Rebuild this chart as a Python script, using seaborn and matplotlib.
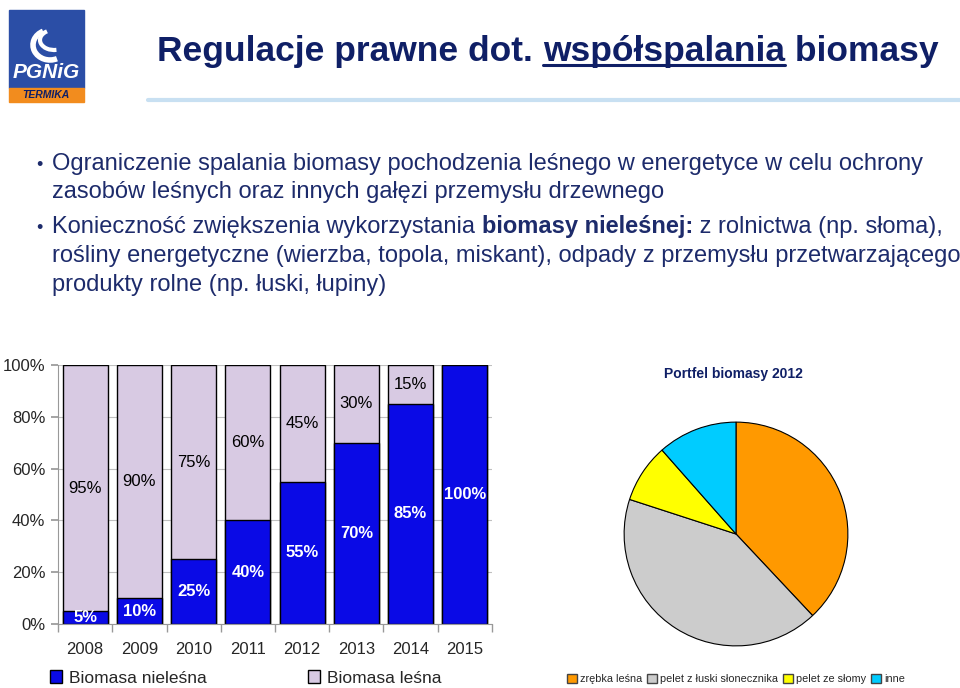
import matplotlib.pyplot as plt
import matplotlib.patches as mpatches
import seaborn as sns
import pandas as pd

# --- data ---
lata = ['2008', '2009', '2010', '2011', '2012', '2013', '2014', '2015']
nielesna = [5, 10, 25, 40, 55, 70, 85, 100]
lesna = [95, 90, 75, 60, 45, 30, 15, 0]
seria_nazwy = ['Biomasa nieleśna', 'Biomasa leśna']

pie_nazwy = ['zrębka leśna', 'pelet z łuski słonecznika', 'pelet ze słomy', 'inne']
pie_udzial = [38, 42, 8.5, 11.5]

y_ticks = [0, 20, 40, 60, 80, 100]

tytul = ['Regulacje prawne dot. ', 'współspalania', ' biomasy']
punkty = [
    [[('Ograniczenie spalania biomasy pochodzenia leśnego w energetyce w celu ochrony', 'normal')],
     [('zasobów leśnych oraz innych gałęzi przemysłu drzewnego', 'normal')]],
    [[('Konieczność zwiększenia wykorzystania ', 'normal'), ('biomasy nieleśnej:', 'bold'),
      (' z rolnictwa (np. słoma),', 'normal')],
     [('rośliny energetyczne (wierzba, topola, miskant), odpady z przemysłu przetwarzającego', 'normal')],
     [('produkty rolne (np. łuski, łupiny)', 'normal')]],
]

BLUE = '#0a0ae6'
LILAC = '#d8cae3'
NAVY = '#0f1f66'
TXT = '#1d2b6b'
pie_kolory = ['#ff9900', '#cccccc', '#ffff00', '#00ccff']

sns.set_theme(style='white')
plt.rcParams['font.family'] = ['Liberation Sans', 'DejaVu Sans']

W, H = 960, 688
fig = plt.figure(figsize=(9.6, 6.88), dpi=100)


def fx(x):
    return x / W


def fy(y):
    return 1 - y / H


rend = fig.canvas.get_renderer()


def runs(x, y, parts, **kw):
    boxes = []
    for s, wgt in parts:
        t = fig.text(fx(x), fy(y), s, weight=wgt, va='baseline', ha='left', **kw)
        bb = t.get_window_extent(rend)
        boxes.append(bb)
        x = x + bb.width
    return boxes


# --- logo ---
fig.patches.append(mpatches.Rectangle((fx(9), fy(88)), fx(75), 78 / H, transform=fig.transFigure,
                                      color='#2b4ea6', zorder=1))
fig.patches.append(mpatches.Rectangle((fx(9), fy(102)), fx(75), 14 / H, transform=fig.transFigure,
                                      color='#f28c1e', zorder=1))
fig.patches.append(mpatches.Arc((fx(50), fy(45)), fx(34), 30 / H, theta1=110, theta2=290,
                                transform=fig.transFigure, color='white', lw=4, zorder=2))
fig.patches.append(mpatches.Arc((fx(54), fy(40)), fx(28), 20 / H, theta1=120, theta2=280,
                                transform=fig.transFigure, color='white', lw=3, zorder=2))
fig.text(fx(46), fy(72), 'PGNiG', color='white', weight='bold', style='italic', fontsize=15,
         ha='center', va='center')
fig.text(fx(46), fy(95), 'TERMIKA', color=NAVY, weight='bold', style='italic', fontsize=7.5,
         ha='center', va='center')

# --- title ---
tb = runs(157, 61, [(t, 'bold') for t in tytul], color=NAVY, fontsize=25.5)
u = tb[1]
fig.lines.append(plt.Line2D([u.x0 / W, u.x1 / W], [fy(65), fy(65)], transform=fig.transFigure,
                            color=NAVY, lw=2.2))
fig.lines.append(plt.Line2D([fx(148), fx(960)], [fy(100), fy(100)], transform=fig.transFigure,
                            color='#c8e0f2', lw=3))

# --- bullets ---
baselines = [[170, 198], [233, 262, 291]]
for punkt, ys in zip(punkty, baselines):
    fig.text(fx(36), fy(ys[0]), '•', color=TXT, fontsize=13, va='baseline')
    for linia, yb in zip(punkt, ys):
        runs(52, yb, linia, color=TXT, fontsize=17)

# --- stacked bars ---
df = pd.DataFrame({'rok': lata, 'nielesna': nielesna, 'lesna': lesna})
df['razem'] = df['nielesna'] + df['lesna']

ax = fig.add_axes([fx(58), fy(624), 434 / W, 259 / H])
sns.barplot(data=df, x='rok', y='razem', color=LILAC, saturation=1, edgecolor='black',
            linewidth=1, width=0.83, ax=ax)
sns.barplot(data=df, x='rok', y='nielesna', color=BLUE, saturation=1, edgecolor='black',
            linewidth=1, width=0.83, ax=ax)

for i, (n, l) in enumerate(zip(nielesna, lesna)):
    if n > 0:
        ax.text(i, n / 2, f'{n}%', ha='center', va='center', color='white', weight='bold', fontsize=12)
    if l > 0:
        ax.text(i, n + l / 2, f'{l}%', ha='center', va='center', color='black', fontsize=12)

ax.set_xlim(-0.5, 7.5)
ax.set_ylim(0, 100)
ax.set_yticks(y_ticks)
ax.set_yticklabels([f'{v}%' for v in y_ticks], fontsize=12)
ax.set_xlabel('')
ax.set_ylabel('')
ax.yaxis.grid(True, color='#c0c0c0', lw=0.8)
ax.set_axisbelow(True)
for s in ['top', 'right']:
    ax.spines[s].set_visible(False)
for s in ['left', 'bottom']:
    ax.spines[s].set_color('#999999')
    ax.spines[s].set_linewidth(0.8)
ax.set_xticks([i + 0.5 for i in range(-1, 8)], minor=True)
ax.tick_params(axis='x', which='major', length=0, pad=13, labelsize=12)
ax.tick_params(axis='x', which='minor', length=6, color='#999999', bottom=True, direction='out')
ax.tick_params(axis='y', length=5, color='#999999', left=True, direction='out', pad=4)

fig.legend(handles=[mpatches.Patch(facecolor=BLUE, edgecolor='black'),
                    mpatches.Patch(facecolor=LILAC, edgecolor='black')],
           labels=seria_nazwy, loc='center left', bbox_to_anchor=(fx(50), fy(678)), ncol=2,
           frameon=False, fontsize=12.5, columnspacing=5.8, handlelength=0.7, handleheight=0.7,
           handletextpad=0.4, borderpad=0, borderaxespad=0)

# --- pie ---
ax2 = fig.add_axes([fx(736 - 113), fy(534 + 113), 226 / W, 226 / H])
ax2.pie(pie_udzial, colors=pie_kolory, startangle=90, counterclock=False,
        wedgeprops=dict(edgecolor='black', linewidth=0.8))
ax2.set_xlim(-1.01, 1.01)
ax2.set_ylim(-1.01, 1.01)
ax2.axis('off')
fig.text(fx(733), fy(374), 'Portfel biomasy 2012', color=NAVY, weight='bold', fontsize=10,
         ha='center', va='center')
fig.legend(handles=[mpatches.Patch(facecolor=c, edgecolor='#444444') for c in pie_kolory],
           labels=pie_nazwy, loc='center left', bbox_to_anchor=(fx(567), fy(679)), ncol=4,
           frameon=False, fontsize=7.8, columnspacing=0.45, handlelength=0.9, handleheight=0.9,
           handletextpad=0.3, borderpad=0, borderaxespad=0)

fig.savefig('out.png', dpi=100)
